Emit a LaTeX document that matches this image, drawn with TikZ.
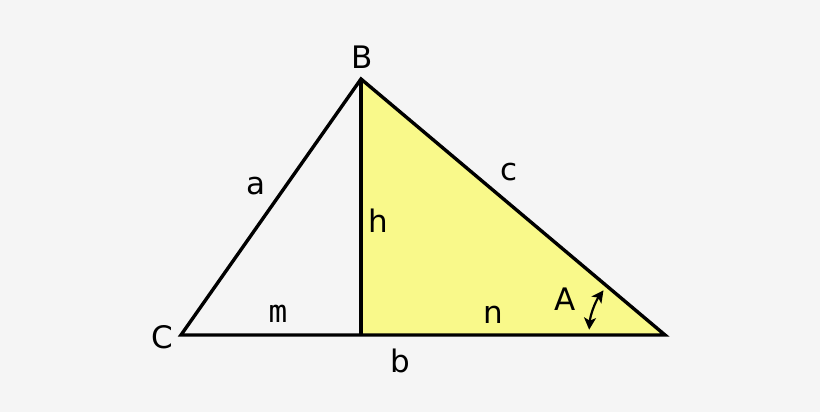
\documentclass[tikz,border=0pt]{standalone}
\usepackage{fontspec}
\setmainfont{DejaVu Sans}
\setmonofont{DejaVu Sans Mono}
\usetikzlibrary{arrows.meta}
\definecolor{bg}{HTML}{F5F5F5}
\definecolor{yel}{HTML}{F9F98A}
\begin{document}
\begin{tikzpicture}[x=0.5pt,y=0.5pt,
  edge/.style={line width=1.7pt,line join=miter},
  lbl/.style={font=\fontsize{15.5}{18}\selectfont,inner sep=0pt},
  angarrow/.style={line width=1.1pt,{Stealth[length=6pt,width=6pt,inset=1.5pt]}-{Stealth[length=6pt,width=6pt,inset=1.5pt]}}]
\fill[bg] (0,0) rectangle (820,412);
\useasboundingbox (0,0) rectangle (820,412);
\coordinate (C) at (181,77);
\coordinate (B) at (361,333);
\coordinate (R) at (665,77);
\coordinate (H) at (361,77);
\fill[yel] (H) -- (B) -- (R) -- cycle;
\draw[edge] (C) -- (B) -- (R) -- cycle;
\draw[edge] (B) -- (H);
\draw[angarrow]
  ([shift={(176:38pt)}]R) arc[start angle=176,end angle=144,radius=38pt];
\node[lbl] (lB) at (362,355) {B};
\node[lbl] (lC) at (162,75) {C};
\node[lbl] (la) at (256,226) {a};
\node[lbl] (lc) at (509,240) {c};
\node[lbl] (lh) at (378,191) {h};
\node[lbl] (lm) at (278,98) {\ttfamily m};
\node[lbl] (ln) at (493,97) {n};
\node[lbl] (lb) at (400,51) {b};
\node[lbl] (lA) at (565,113) {A};
\end{tikzpicture}
\end{document}
